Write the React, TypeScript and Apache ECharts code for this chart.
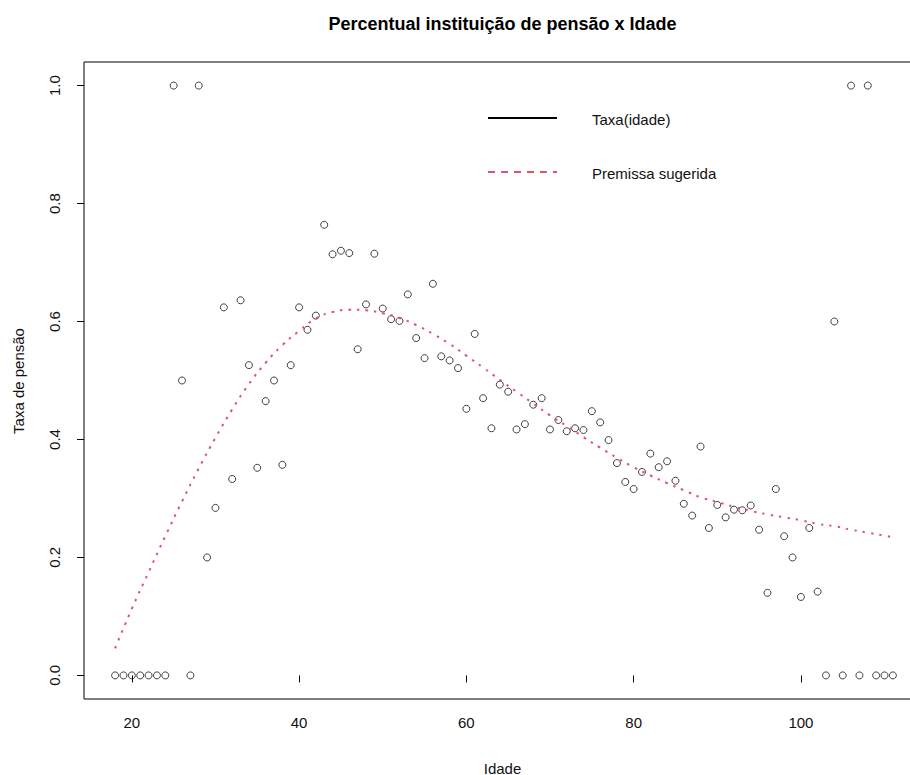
import React, { useEffect, useRef } from "react";
import * as echarts from "echarts";

const ages = [
  18, 19, 20, 21, 22, 23, 24, 25, 26, 27, 28, 29, 30, 31, 32, 33, 34, 35, 36, 37,
  38, 39, 40, 41, 42, 43, 44, 45, 46, 47, 48, 49, 50, 51, 52, 53, 54, 55, 56, 57,
  58, 59, 60, 61, 62, 63, 64, 65, 66, 67, 68, 69, 70, 71, 72, 73, 74, 75, 76, 77,
  78, 79, 80, 81, 82, 83, 84, 85, 86, 87, 88, 89, 90, 91, 92, 93, 94, 95, 96, 97,
  98, 99, 100, 101, 102, 103, 104, 105, 106, 107, 108, 109, 110, 111,
];

const taxa = [
  0, 0, 0, 0, 0, 0, 0, 1.0, 0.5, 0, 1.0, 0.2, 0.284, 0.624, 0.333, 0.636, 0.526, 0.352, 0.465, 0.5,
  0.357, 0.526, 0.624, 0.586, 0.61, 0.764, 0.714, 0.72, 0.716, 0.553, 0.629, 0.715, 0.622, 0.604, 0.601, 0.646, 0.572, 0.538, 0.664, 0.541,
  0.534, 0.521, 0.452, 0.579, 0.47, 0.419, 0.493, 0.481, 0.417, 0.426, 0.459, 0.47, 0.417, 0.433, 0.414, 0.419, 0.416, 0.448, 0.429, 0.399,
  0.36, 0.328, 0.316, 0.345, 0.376, 0.353, 0.363, 0.33, 0.291, 0.271, 0.388, 0.25, 0.289, 0.268, 0.281, 0.28, 0.288, 0.247, 0.14, 0.316,
  0.236, 0.2, 0.133, 0.25, 0.142, 0, 0.6, 0, 1.0, 0, 1.0, 0, 0, 0,
];

const curveAges = [
  18, 20, 22, 24, 26, 28, 30, 32, 34, 36, 38, 40, 42, 44, 46, 48, 50, 52, 54, 56,
  58, 60, 62, 64, 66, 68, 70, 72, 74, 76, 78, 80, 82, 84, 86, 88, 90, 92, 94, 96,
  98, 100, 102, 104, 106, 108, 110, 111,
];
const curveValues = [
  0.046, 0.113, 0.175, 0.236, 0.295, 0.351, 0.403, 0.451, 0.494, 0.53, 0.56, 0.584, 0.605, 0.616, 0.62, 0.619, 0.614, 0.606, 0.594, 0.579,
  0.562, 0.542, 0.522, 0.501, 0.481, 0.461, 0.441, 0.423, 0.404, 0.386, 0.369, 0.353, 0.339, 0.326, 0.314, 0.302, 0.294, 0.286, 0.279, 0.273,
  0.268, 0.263, 0.257, 0.253, 0.247, 0.242, 0.237, 0.234,
];

const xTicks = [20, 40, 60, 80, 100];
const yTicks = [0, 0.2, 0.4, 0.6, 0.8, 1.0];

const titleText = "Percentual instituição de pensão x Idade";
const xName = "Idade";
const yName = "Taxa de pensão";
const legendNames = ["Taxa(idade)", "Premissa sugerida"];

const FONT = "'Liberation Sans', Arial, sans-serif";
const RED = "#DF536B";

export default function App() {
  const ref = useRef<HTMLDivElement>(null);

  useEffect(() => {
    document.body.style.margin = "0";
    if (!ref.current) return;
    const chart = echarts.init(ref.current, undefined, { renderer: "svg" });

    const points = ages.map((a, i) => [a, taxa[i]]);
    const curve = curveAges.map((a, i) => [a, curveValues[i]]);

    chart.setOption({
      animation: false,
      backgroundColor: "#fff",
      textStyle: { fontFamily: FONT },
      grid: {
        left: 84,
        top: 62,
        width: 840,
        height: 637,
        outerBoundsMode: "none",
        containLabel: false,
        show: true,
        borderColor: "#000",
        borderWidth: 1,
        backgroundColor: "transparent",
      },
      xAxis: {
        type: "value",
        min: 14.28,
        max: 114.72,
        axisLine: { show: false },
        splitLine: { show: false },
        axisTick: {
          show: true,
          length: 7,
          customValues: xTicks,
          lineStyle: { color: "#000", width: 1 },
        },
        axisLabel: {
          customValues: xTicks,
          fontSize: 15,
          color: "#111",
          margin: 16,
          fontFamily: FONT,
        },
      },
      yAxis: {
        type: "value",
        min: -0.04,
        max: 1.04,
        axisLine: { show: false },
        splitLine: { show: false },
        axisTick: {
          show: true,
          length: 7,
          customValues: yTicks,
          lineStyle: { color: "#000", width: 1 },
        },
        axisLabel: {
          customValues: yTicks,
          rotate: 90,
          fontSize: 15,
          color: "#111",
          margin: 22,
          fontFamily: FONT,
          formatter: (v: number) => v.toFixed(1),
        },
      },
      series: [
        {
          type: "scatter",
          data: points,
          symbol: "circle",
          symbolSize: 7,
          itemStyle: {
            color: "rgba(0,0,0,0)",
            borderColor: "#111",
            borderWidth: 1,
          },
          z: 2,
        },
        {
          type: "line",
          data: curve,
          smooth: true,
          showSymbol: false,
          symbol: "none",
          lineStyle: { color: RED, width: 2, type: [2.5, 6] },
          z: 3,
        },
      ],
      graphic: [
        {
          type: "text",
          x: 502.5,
          y: 24,
          style: {
            text: titleText,
            font: `bold 18px ${FONT}`,
            fill: "#000",
            align: "center",
            verticalAlign: "middle",
          },
        },
        {
          type: "text",
          x: 502.5,
          y: 768,
          style: {
            text: xName,
            font: `15px ${FONT}`,
            fill: "#111",
            align: "center",
            verticalAlign: "middle",
          },
        },
        {
          type: "text",
          x: 18,
          y: 381,
          rotation: Math.PI / 2,
          style: {
            text: yName,
            font: `15px ${FONT}`,
            fill: "#111",
            align: "center",
            verticalAlign: "middle",
          },
        },
        {
          type: "line",
          shape: { x1: 488, y1: 118, x2: 557, y2: 118 },
          style: { stroke: "#000", lineWidth: 2 },
        },
        {
          type: "text",
          x: 592,
          y: 119,
          style: {
            text: legendNames[0],
            font: `15px ${FONT}`,
            fill: "#111",
            align: "left",
            verticalAlign: "middle",
          },
        },
        {
          type: "line",
          shape: { x1: 488, y1: 172, x2: 557, y2: 172 },
          style: { stroke: RED, lineWidth: 2, lineDash: [7, 6] },
        },
        {
          type: "text",
          x: 592,
          y: 173,
          style: {
            text: legendNames[1],
            font: `15px ${FONT}`,
            fill: "#111",
            align: "left",
            verticalAlign: "middle",
          },
        },
      ],
    });

    return () => chart.dispose();
  }, []);

  return <div ref={ref} style={{ width: 910, height: 775 }} />;
}
